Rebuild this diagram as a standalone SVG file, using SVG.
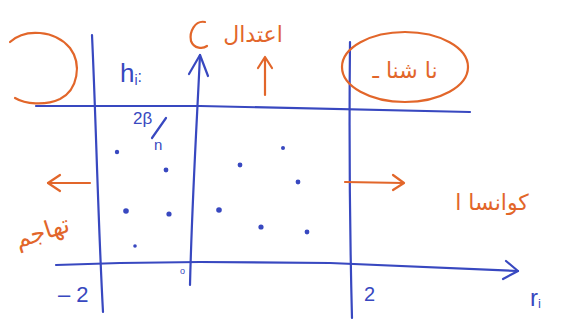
<svg xmlns="http://www.w3.org/2000/svg" width="567" height="320" viewBox="0 0 567 320">
<defs>
<style>
.b{fill:none;stroke:#3848c0;stroke-width:2.2;stroke-linecap:round;stroke-linejoin:round}
.o{fill:none;stroke:#e2662a;stroke-width:2.2;stroke-linecap:round;stroke-linejoin:round}
.bt{fill:#3848c0;font-family:"Liberation Sans",sans-serif}
.ot{fill:#e2662a;font-family:"DejaVu Sans","Noto Sans",sans-serif}
.dot{fill:#3848c0}
</style>
</defs>
<rect width="567" height="320" fill="#ffffff"/>
<g id="connectors">
<path class="b" d="M92,35 C96,120 98,220 103,312"/>
<path class="b" d="M190,285 C192,200 197,120 200,55"/>
<path class="b" d="M189,74 L200,55 L208,76"/>
<path class="b" d="M350,42 C349,140 350,240 352,318"/>
<path class="b" d="M36,106 L200,106 L470,112"/>
<path class="b" d="M56,265 L120,263 L200,262 L330,263 L518,271"/>
<path class="b" d="M506,261 L518,271 L503,279"/>
<path class="o" d="M265,95 L265,58"/>
<path class="o" d="M258,68 L265,57 L272,68"/>
<path class="o" d="M90,183 L48,183"/>
<path class="o" d="M60,175 L48,183 L60,191"/>
<path class="o" d="M345,182 L403,183"/>
<path class="o" d="M393,175 L404,183 L393,190"/>
</g>
<g id="circle-left">
<path class="o" d="M10,42 C25,28 55,30 70,48 C82,64 78,90 60,99 C45,106 25,104 15,98"/>
</g>
<g id="label-top">
<path class="o" d="M205,22 C195,20 189,32 191,41 C194,49 203,49 207,46"/>
<text class="ot" x="253" y="42" font-size="22" text-anchor="middle">اعتدال</text>
</g>
<g id="ellipse-right">
<ellipse class="o" cx="405" cy="67" rx="63" ry="35"/>
<text class="ot" x="405" y="78" font-size="22" text-anchor="middle">نا شنا ـ</text>
</g>
<g id="label-left">
<text class="ot" x="42" y="240" font-size="24" text-anchor="middle" transform="rotate(-18 42 232)">تهاجم</text>
</g>
<g id="label-right">
<text class="ot" x="492" y="210" font-size="22" text-anchor="middle">کوانسا ا</text>
</g>
<g id="axis-labels">
<text class="bt" x="120" y="82" font-size="26">h<tspan font-size="14" dy="3">i</tspan><tspan font-size="16" dy="-3">:</tspan></text>
<text class="bt" x="133" y="124" font-size="17">2β</text>
<path class="b" d="M166,118 L152,138"/>
<text class="bt" x="154" y="150" font-size="15">n</text>
<text class="bt" x="58" y="302" font-size="22">– 2</text>
<text class="bt" x="180" y="274" font-size="9">o</text>
<text class="bt" x="364" y="301" font-size="20">2</text>
<text class="bt" x="530" y="306" font-size="24">r<tspan font-size="13" dy="2">i</tspan></text>
</g>
<g id="points">
<circle class="dot" cx="117" cy="152" r="2.2"/>
<circle class="dot" cx="166" cy="170" r="2.4"/>
<circle class="dot" cx="126" cy="211" r="2.8"/>
<circle class="dot" cx="169" cy="214" r="2.6"/>
<circle class="dot" cx="135" cy="246" r="1.8"/>
<circle class="dot" cx="240" cy="165" r="2.4"/>
<circle class="dot" cx="283" cy="148" r="2"/>
<circle class="dot" cx="298" cy="182" r="2.4"/>
<circle class="dot" cx="219" cy="210" r="2.8"/>
<circle class="dot" cx="261" cy="227" r="2.6"/>
<circle class="dot" cx="307" cy="232" r="2.4"/>
</g>
</svg>
